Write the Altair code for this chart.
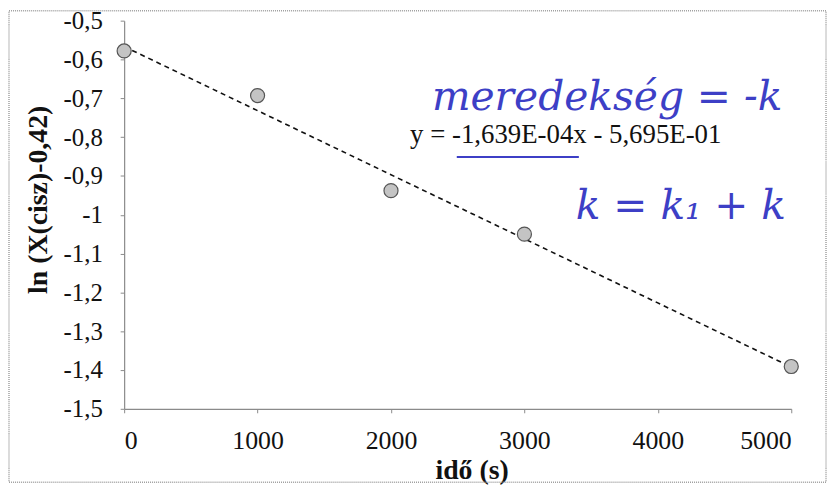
import altair as alt
import pandas as pd

# data
time_s = [0, 1000, 2000, 3000, 5000]
ln_vals = [-0.578, -0.693, -0.938, -1.050, -1.391]

x_ticks = [0, 1000, 2000, 3000, 4000, 5000]
y_ticks = [-1.5, -1.4, -1.3, -1.2, -1.1, -1.0, -0.9, -0.8, -0.7, -0.6, -0.5]

equation_text = ["y = -1,639E-04x - 5,695E-01"]
equation_x = [2143]
equation_y = [-0.795]

note_texts = ["meredekség = -k", "k = k₁ + k"]
note_x = [2307, 3385]
note_y = [-0.700, -0.981]

underline_x = [2493]
underline_x2 = [3408]
underline_y = [-0.851]

pts = pd.DataFrame({"t": time_s, "v": ln_vals})
eq = pd.DataFrame({"t": equation_x, "v": equation_y, "label": equation_text})
notes = pd.DataFrame({"t": note_x, "v": note_y, "label": note_texts})
uline = pd.DataFrame({"t": underline_x, "t2": underline_x2, "v": underline_y})

FONT = "Liberation Serif"
BLUE = "#3d3fc6"

xscale = alt.Scale(domain=[0, 5000], nice=False)
yscale = alt.Scale(domain=[-1.5, -0.5], nice=False)

xaxis = alt.Axis(values=x_ticks, tickCount=20, title="idő (s)", format="d",
                 labelFontSize=26, labelPadding=15, tickSize=4, labelOverlap=False,
                 titleFontSize=28, titleFontWeight="bold", titlePadding=3, titleX=350,
                 labelFont=FONT, titleFont=FONT, labelColor="#111", titleColor="#111",
                 grid=False)
yaxis = alt.Axis(values=y_ticks, tickCount=20, title="ln (X(cisz)-0,42)",
                 labelExpr="replace(replace(format(datum.value, '.1~f'), '.', ','), '\u2212', '-')",
                 labelFontSize=25, labelPadding=18, tickSize=4,
                 labelOverlap=False, labelBound=False,
                 titleFontSize=28, titleFontWeight="bold", titlePadding=11, titleY=180,
                 labelFont=FONT, titleFont=FONT, labelColor="#111", titleColor="#111",
                 grid=False)

X = alt.X("t:Q", scale=xscale, axis=xaxis)
Y = alt.Y("v:Q", scale=yscale, axis=yaxis)

base = alt.Chart(pts)

frame = alt.Chart(pd.DataFrame({"a": [0]})).mark_rect(
    fill=None, stroke="#a0a0a0", strokeWidth=1.5, strokeDash=[1, 1]
).encode(x=alt.value(-116), x2=alt.value(707), y=alt.value(-10), y2=alt.value(465))

trend = base.transform_regression("t", "v", extent=[0, 5000]).mark_line(
    color="#111", strokeDash=[5, 4], strokeWidth=1.6
).encode(x=X, y=Y)

points = base.mark_point(
    shape="circle", filled=True, fill="#c4c4c4", stroke="#555", strokeWidth=1.2,
    size=200, opacity=1
).encode(x=X, y=Y)

eq_text = alt.Chart(eq).mark_text(
    align="left", baseline="middle", font=FONT, fontSize=27, color="#111"
).encode(x=alt.X("t:Q", scale=xscale), y=alt.Y("v:Q", scale=yscale), text="label:N")

note_text = alt.Chart(notes).mark_text(
    align="left", baseline="middle", font="DejaVu Serif", fontStyle="italic",
    fontSize=41, color=BLUE
).encode(x=alt.X("t:Q", scale=xscale), y=alt.Y("v:Q", scale=yscale), text="label:N")

underline = alt.Chart(uline).mark_rule(color=BLUE, strokeWidth=2).encode(
    x=alt.X("t:Q", scale=xscale), x2="t2:Q", y=alt.Y("v:Q", scale=yscale)
)

chart = alt.layer(frame, trend, points, eq_text, underline, note_text).properties(
    width=672, height=391,
    autosize=alt.AutoSizeParams(type="none"),
    padding={"left": 117, "top": 11, "right": 36, "bottom": 75},
).configure_view(stroke=None).configure_axis(
    domainColor="#8a8a8a", tickColor="#8a8a8a", domainWidth=1.2, labelOverlap=False
)

chart.save("out.html", embed_options={"renderer": "svg", "actions": False})
